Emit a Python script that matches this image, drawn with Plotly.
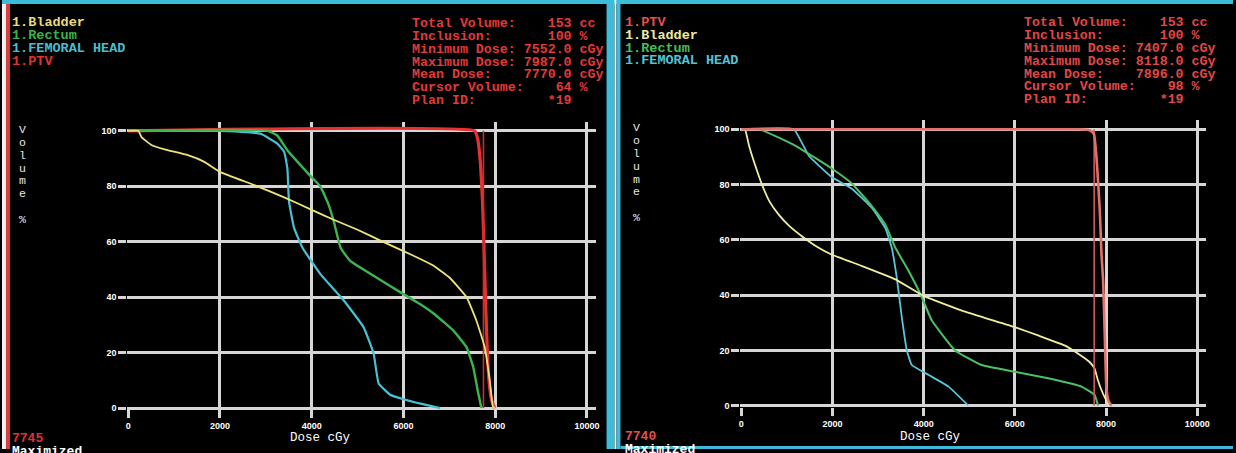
import plotly.graph_objects as go

W, H = 1236, 453

# ---------------- data : left panel ----------------
L_bladder_dose = [0, 220, 290, 505, 794, 1300, 1660, 2000, 2750, 3400, 4000, 4480, 5000, 5500, 6000, 6300, 6650, 7010, 7380, 7590, 7770, 7880, 7950, 7990]
L_bladder_vol = [100, 100, 97.7, 94.9, 93.3, 91.2, 88.8, 85.2, 80.4, 76.0, 71.5, 67.9, 64.3, 60.4, 56.6, 54.3, 51.4, 47.0, 39.9, 31.6, 22.1, 10.2, 0.6, 0]
L_rectum_dose = [0, 3040, 3250, 3470, 3990, 4190, 4370, 4480, 4630, 4840, 5350, 6000, 6360, 6650, 7085, 7375, 7520, 7630, 7700]
L_rectum_vol = [100, 100, 98.3, 93.0, 83.4, 79.9, 73.3, 67.4, 57.8, 53.1, 47.7, 41.1, 37.5, 34.2, 28.0, 22.0, 14.9, 5.4, 0]
L_femoral_dose = [0, 2000, 2600, 2890, 3250, 3400, 3470, 3505, 3615, 3800, 4190, 4700, 5130, 5350, 5460, 5710, 6000, 6400, 6800]
L_femoral_vol = [100, 100, 99.5, 98.9, 95.4, 92.4, 86.4, 74.5, 65.0, 57.8, 48.3, 38.8, 29.2, 19.7, 8.9, 4.8, 3.2, 1.5, 0]
L_ptv_dose = [0, 7552, 7620, 7680, 7720, 7745, 7770, 7800, 7830, 7870, 7920, 7987]
L_ptv_vol = [100, 100, 97, 88, 76, 64, 50, 34, 20, 9, 3, 0]
L_cursor = 7745
L_legend = ["1.Bladder", "1.Rectum", "1.FEMORAL HEAD", "1.PTV"]
L_info_values = ["153", "100", "7552.0", "7987.0", "7770.0", "64", "*19"]

# ---------------- data : right panel ----------------
R_bladder_dose = [0, 80, 170, 280, 460, 620, 825, 1050, 1335, 1650, 1990, 2650, 3380, 4000, 4840, 6000, 6510, 7090, 7390, 7640, 7750, 7820, 7930, 8040, 8080]
R_bladder_vol = [100, 100, 94.0, 88.1, 79.7, 73.8, 69.0, 65.0, 61.2, 57.6, 54.6, 50.5, 45.7, 39.7, 34.4, 28.4, 25.4, 21.8, 18.8, 15.8, 13.4, 9.3, 4.5, 0.9, 0]
R_rectum_dose = [0, 390, 1190, 1990, 2430, 2870, 3160, 3380, 3670, 3930, 4180, 4690, 5270, 6000, 6730, 7460, 7750, 7820, 7840]
R_rectum_vol = [100, 100, 94.0, 85.7, 80.3, 72.0, 65.4, 57.1, 48.7, 40.3, 30.8, 20.0, 14.7, 12.3, 9.9, 6.9, 3.9, 0.4, 0]
R_femoral_dose = [0, 1150, 1480, 1990, 2430, 2870, 3160, 3300, 3410, 3520, 3630, 3740, 4110, 4545, 4980]
R_femoral_vol = [100, 100, 90.4, 82.6, 78.4, 71.4, 64.2, 57.1, 46.3, 32.0, 20.0, 14.7, 11.1, 6.9, 0]
R_ptv_dose = [0, 7407, 7600, 7700, 7740, 7790, 7830, 7865, 7900, 7937, 7975, 8010, 8060, 8118]
R_ptv_vol = [100, 100, 99.8, 99, 98, 90, 80, 70, 55, 45, 24, 6, 1.5, 0]
R_cursor = 7740
R_legend = ["1.PTV", "1.Bladder", "1.Rectum", "1.FEMORAL HEAD"]
R_info_values = ["153", "100", "7407.0", "8118.0", "7896.0", "98", "*19"]

# ---------------- shared labels ----------------
info_labels = ["Total Volume:", "Inclusion:", "Minimum Dose:", "Maximum Dose:", "Mean Dose:", "Cursor Volume:", "Plan ID:"]
info_units = ["cc", "%", "cGy", "cGy", "cGy", "%", ""]
x_ticks = [0, 2000, 4000, 6000, 8000, 10000]
y_ticks = [0, 20, 40, 60, 80, 100]
x_title = "Dose cGy"
y_title = "Volume %"

# ---------------- styling ----------------
MONO = "Liberation Mono"
GRID = "#d6d6d6"
CYAN_BORDER = "#3dbcd9"
L_col = {"bladder": "#ece37a", "rectum": "#3db54e", "femoral": "#45c1d3", "ptv": "#e83030"}
R_col = {"bladder": "#f0eca0", "rectum": "#4cc063", "femoral": "#58c6d8", "ptv": "#e2716c"}
L_txt = {"1.Bladder": "#e6dc78", "1.Rectum": "#3cb34c", "1.FEMORAL HEAD": "#46bfd2", "1.PTV": "#e03434"}
R_txt = {"1.Bladder": "#ece8a6", "1.Rectum": "#48bd5c", "1.FEMORAL HEAD": "#52c3d6", "1.PTV": "#e05050"}


def px(x, y):
    return x / W, 1 - y / H


fig = go.Figure()


def add_line(x, y, color, width, xa, ya):
    fig.add_trace(go.Scatter(x=x, y=y, mode="lines", line=dict(color=color, width=width, shape="spline", smoothing=0.35),
                             xaxis=xa, yaxis=ya, showlegend=False, hoverinfo="skip"))


# left panel: PTV underneath, cursor, then femoral, rectum, bladder
add_line(L_ptv_dose, L_ptv_vol, L_col["ptv"], 3.2, "x", "y")
fig.add_trace(go.Scatter(x=[L_cursor, L_cursor], y=[0, 100], mode="lines", line=dict(color="#c83030", width=1.6),
                         xaxis="x", yaxis="y", showlegend=False, hoverinfo="skip"))
add_line(L_femoral_dose, L_femoral_vol, L_col["femoral"], 2.2, "x", "y")
add_line(L_rectum_dose, L_rectum_vol, L_col["rectum"], 2.4, "x", "y")
add_line(L_bladder_dose, L_bladder_vol, L_col["bladder"], 1.8, "x", "y")

# right panel
add_line(R_femoral_dose, R_femoral_vol, R_col["femoral"], 1.8, "x2", "y2")
add_line(R_rectum_dose, R_rectum_vol, R_col["rectum"], 2.0, "x2", "y2")
add_line(R_bladder_dose, R_bladder_vol, R_col["bladder"], 1.8, "x2", "y2")
fig.add_trace(go.Scatter(x=[R_cursor, R_cursor], y=[0, 100], mode="lines", line=dict(color="#d05a5a", width=1.6),
                         xaxis="x2", yaxis="y2", showlegend=False, hoverinfo="skip"))
add_line(R_ptv_dose, R_ptv_vol, R_col["ptv"], 2.6, "x2", "y2")

tickfont = dict(family="Liberation Sans", size=9, color="white", weight="bold")
axis_common = dict(showgrid=True, gridcolor=GRID, gridwidth=2.5, zeroline=False, showline=False,
                   ticks="outside", ticklen=8, tickwidth=2.5, tickcolor=GRID, tickfont=tickfont, fixedrange=True)

fig.update_layout(
    width=W, height=H, margin=dict(l=0, r=0, t=0, b=0, pad=0),
    paper_bgcolor="black", plot_bgcolor="black", showlegend=False,
    xaxis=dict(domain=[125.8 / W, 596.5 / W], range=[-20, 10200], tickvals=x_ticks, ticktext=[str(v) for v in x_ticks],
               anchor="y", **axis_common),
    yaxis=dict(domain=[1 - 413.1 / H, 1 - 123.0 / H], range=[-0.5, 103.2], tickvals=y_ticks, ticktext=[str(v) for v in y_ticks],
               anchor="x", **axis_common),
    xaxis2=dict(domain=[741.4 / W, 1209.2 / W], range=[-20, 10200], tickvals=x_ticks, ticktext=[str(v) for v in x_ticks],
                anchor="y2", **axis_common),
    yaxis2=dict(domain=[1 - 410.7 / H, 1 - 121.4 / H], range=[-0.5, 103.2], tickvals=y_ticks, ticktext=[str(v) for v in y_ticks],
                anchor="x2", **axis_common),
)

shapes = []


def rect(x0, y0, x1, y1, color):
    a0, b0 = px(x0, y0)
    a1, b1 = px(x1, y1)
    shapes.append(dict(type="rect", xref="paper", yref="paper", x0=a0, x1=a1, y0=b1, y1=b0,
                       fillcolor=color, line=dict(width=0), layer="above"))


rect(0, 0, W, 4, CYAN_BORDER)          # top strip
rect(0, 4, 4, H, "#f2f2f2")            # white left edge
rect(4, 4, 8, H, "#d84040")            # red left strip
rect(607, 0, 615, H, CYAN_BORDER)      # right border of left panel
rect(615, 0, 617, H, "#f2f2f2")
rect(617, 0, 621, H, CYAN_BORDER)      # left border of right panel
rect(621, 450, W, H, CYAN_BORDER)      # bottom strip of right panel
fig.update_layout(shapes=shapes)

annotations = []


def text(x, y, s, color, size=13.5, bold=True, xanchor="left", family=MONO):
    a, b = px(x, y)
    annotations.append(dict(x=a, y=b, xref="paper", yref="paper", text=s.replace(" ", "\u00a0"), showarrow=False,
                            xanchor=xanchor, yanchor="middle",
                            font=dict(family=family, size=size, color=color, weight="bold" if bold else "normal")))


# legends
for i, name in enumerate(L_legend):
    text(8, 23 + 13 * i, name, L_txt[name])
for i, name in enumerate(R_legend):
    text(624, 22.5 + 13 * i, name, R_txt[name])


def info_line(label, value, unit):
    s = label + value.rjust(20 - len(label))
    return s + (" " + unit if unit else "")


for i, lab in enumerate(info_labels):
    text(410, 24 + 12.9 * i, info_line(lab, L_info_values[i], info_units[i]), "#e03a3a", size=13.3)
    text(1024, 23 + 12.93 * i, info_line(lab, R_info_values[i], info_units[i]), "#e04848", size=13.3)

# axis titles
text(287, 442, x_title, "white", size=12.5, bold=False)
text(900, 441, x_title, "white", size=12.5, bold=False)
for i, ch in enumerate(y_title):
    if ch != " ":
        text(21, 131 + 12.9 * i, ch, "#e8e8e8", size=11.5, bold=False, xanchor="center")
        text(637, 129 + 12.9 * i, ch, "#e8e8e8", size=11.5, bold=False, xanchor="center")

# bottom status text
text(8, 442, str(L_cursor), "#e03030", size=13)
text(8, 456, "Maximized", "white", size=13)
text(624, 440, str(R_cursor), "#e05050", size=13)
text(624, 454, "Maximized", "white", size=13)

fig.update_layout(annotations=annotations)

fig.write_html("out.html", config={"displayModeBar": False},
               post_script="document.body.style.margin='0';document.body.style.overflow='hidden';")
